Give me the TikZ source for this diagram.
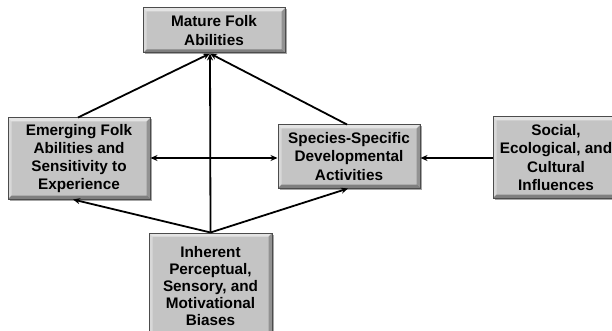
\documentclass[tikz,border=0pt]{standalone}
\usepackage{fontspec}
\setmainfont{Liberation Sans}
\usetikzlibrary{shadows,arrows.meta,calc}
\begin{document}
\begin{tikzpicture}[x=1pt,y=-1pt,
  box/.style={draw=black!70, line width=1pt, fill=black!23, inner sep=0pt,
    font=\bfseries\fontsize{15.3}{18.3}\selectfont, align=center,
    drop shadow={shadow xshift=1.5pt, shadow yshift=-1.5pt, opacity=0.7},
    path picture={
      \coordinate (nw) at (path picture bounding box.north west);
      \coordinate (se) at (path picture bounding box.south east);
      \fill[white,opacity=0.55] (nw) -- (nw -| se) -- ($(nw -| se)+(-3.5,3.5)$) -- ($(nw)+(3.5,3.5)$) -- cycle;
      \fill[white,opacity=0.35] (nw) -- (nw |- se) -- ($(nw |- se)+(3.5,-3.5)$) -- ($(nw)+(3.5,3.5)$) -- cycle;
      \fill[black,opacity=0.35] (se) -- (nw |- se) -- ($(nw |- se)+(3.5,-3.5)$) -- ($(se)+(-3.5,-3.5)$) -- cycle;
      \fill[black,opacity=0.25] (se) -- (nw -| se) -- ($(nw -| se)+(-3.5,3.5)$) -- ($(se)+(-3.5,-3.5)$) -- cycle;
    }},
  conn/.style={line width=1.8pt, black, -{Stealth[length=7pt,width=6pt]}}]
\useasboundingbox (0,0) rectangle (612,331);
\node[box, minimum width=142pt, minimum height=45pt] (top) at (214,30.5) {Mature Folk\\Abilities};
\node[box, minimum width=142pt, minimum height=81pt] (left) at (79,158.5) {Emerging Folk\\Abilities and\\Sensitivity to\\Experience};
\node[box, minimum width=142pt, minimum height=63pt] (mid) at (349,156.5) {Species-Specific\\Developmental\\Activities};
\node[box, minimum width=126pt, minimum height=81pt] (right) at (556,157.5) {Social,\\Ecological, and\\Cultural\\Influences};
\node[box, minimum width=123pt, minimum height=106pt, font=\bfseries\fontsize{15.3}{17.2}\selectfont] (bot) at (210.5,286) {Inherent\\Perceptual,\\Sensory, and\\Motivational\\Biases};
\coordinate (apex) at ($(top.south)+(-4,0)$);
\draw[conn] ($(left.north)+(-1,0)$) -- (apex);
\draw[conn] ($(mid.north)+(-2,0)$) -- (apex);
\draw[conn] (bot.north) -- (apex);
\draw[conn] (bot.north) -- ($(left.south)+(-6,0)$);
\draw[conn] (bot.north) -- ($(mid.south)+(-1,0)$);
\draw[conn, {Stealth[length=7pt,width=6pt]}-{Stealth[length=7pt,width=6pt]}] ($(left.east)+(0,-0.5)$) -- ($(left.east -| mid.west)+(0,-0.5)$);
\draw[conn] ($(right.west)+(0,0.5)$) -- ($(right.west -| mid.east)+(0,0.5)$);
\end{tikzpicture}
\end{document}
